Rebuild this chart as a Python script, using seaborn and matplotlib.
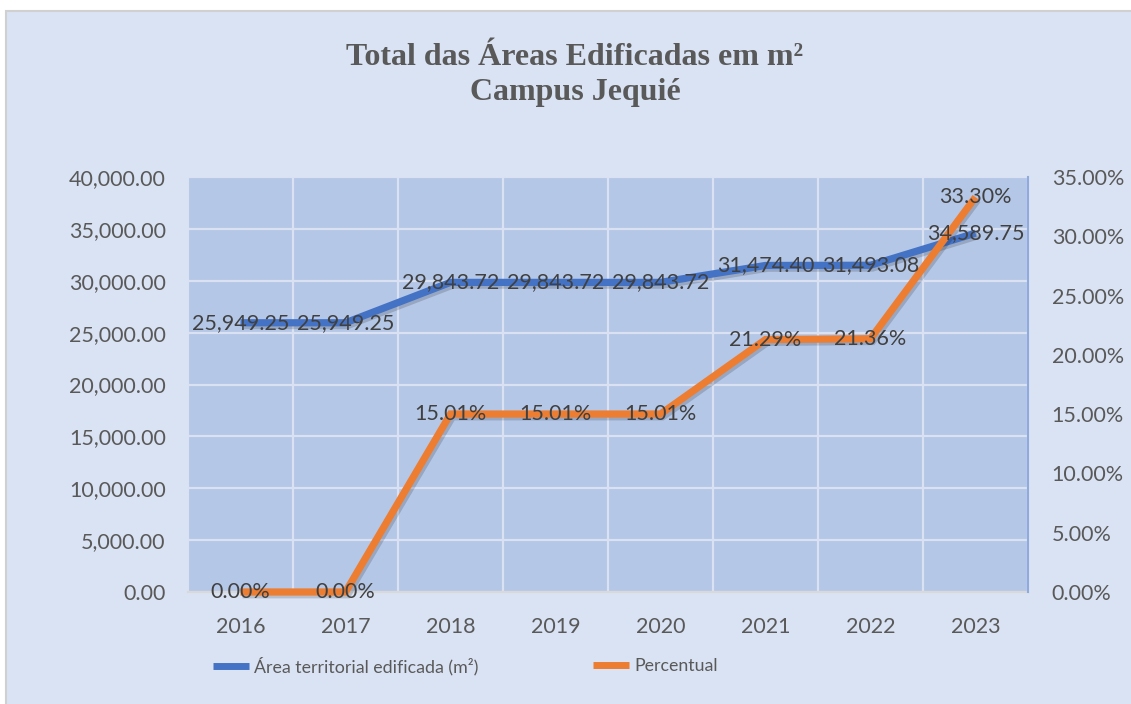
import matplotlib
matplotlib.use("Agg")
import matplotlib.pyplot as plt
import matplotlib.patheffects as pe
from matplotlib.patches import Rectangle
from matplotlib.ticker import FuncFormatter, MultipleLocator, FixedLocator
import seaborn as sns
import pandas as pd

# ---- data ----
anos = ["2016", "2017", "2018", "2019", "2020", "2021", "2022", "2023"]
area_m2 = [25949.25, 25949.25, 29843.72, 29843.72, 29843.72, 31474.40, 31493.08, 34589.75]
percentual = [0.00, 0.00, 15.01, 15.01, 15.01, 21.29, 21.36, 33.30]
titulo = "Total das Áreas Edificadas em m²\nCampus Jequié"
nome_area = "Área territorial edificada (m²)"
nome_perc = "Percentual"

df = pd.DataFrame({"ano": anos, "area": area_m2, "perc": percentual})

sns.set_style("white")
plt.rcParams["font.family"] = ["Lato", "DejaVu Sans"]

BG = "#DAE3F3"
PLOT_BG = "#B4C7E7"
BLUE = "#4472C4"
ORANGE = "#ED7D31"
TXT = "#595959"
LBL = "#404040"
FS = 15.5

fig = plt.figure(figsize=(11.31, 7.04), dpi=100)
fig.patch.set_facecolor("white")
fig.patches.append(Rectangle((6 / 1131, -0.05), 1.2, 1 - 11 / 704 + 0.05,
                             transform=fig.transFigure, facecolor=BG,
                             edgecolor="#D0D0D0", linewidth=1.5, zorder=-10))

ax = fig.add_axes([188 / 1131, 1 - 592 / 704, (1028 - 188) / 1131, (592 - 177) / 704])
ax.set_facecolor(PLOT_BG)
ax2 = ax.twinx()

shadow = [pe.SimpleLineShadow(offset=(1.5, -2.0), shadow_color="black", alpha=0.16), pe.Normal()]

sns.lineplot(data=df, x="ano", y="area", ax=ax, color=BLUE, linewidth=5.2, sort=False,
             path_effects=shadow, solid_joinstyle="miter", solid_capstyle="butt",
             clip_on=False, zorder=3)
sns.lineplot(data=df, x="ano", y="perc", ax=ax2, color=ORANGE, linewidth=5.2, sort=False,
             path_effects=shadow, solid_joinstyle="miter", solid_capstyle="butt",
             clip_on=False, zorder=3)

ax.set_xlim(-0.5, len(anos) - 0.5)
ax.set_ylim(0, 40000)
ax2.set_ylim(0, 35)
ax.yaxis.set_major_locator(MultipleLocator(5000))
ax2.yaxis.set_major_locator(MultipleLocator(5))
ax.yaxis.set_major_formatter(FuncFormatter(lambda v, p: f"{v:,.2f}"))
ax2.yaxis.set_major_formatter(FuncFormatter(lambda v, p: f"{v:.2f}%"))

ax.xaxis.set_minor_locator(FixedLocator([i - 0.5 for i in range(len(anos) + 1)]))
ax.grid(False)
ax.grid(True, axis="y", which="major", color="#D9E1F2", linewidth=1.6)
ax.grid(True, axis="x", which="minor", color="#D9E1F2", linewidth=1.6)
ax2.grid(False)
ax.set_axisbelow(True)

ax.set_xlabel("")
ax.set_ylabel("")
ax2.set_ylabel("")

for s in ("top", "left", "right"):
    ax.spines[s].set_visible(False)
ax.spines["bottom"].set_color("#D9D9D9")
ax.spines["bottom"].set_linewidth(1.5)
for s in ("top", "left", "bottom"):
    ax2.spines[s].set_visible(False)
ax2.spines["right"].set_color("#8FAADC")
ax2.spines["right"].set_linewidth(1.5)
ax2.spines["right"].set_zorder(1)

ax.tick_params(axis="both", which="both", length=0, labelsize=FS, labelcolor=TXT)
ax.tick_params(axis="y", pad=16)
ax.tick_params(axis="x", pad=18)
ax2.tick_params(axis="y", length=0, labelsize=FS, labelcolor=TXT, pad=17)

# data labels (drawn on top axis so they sit above both lines)
for i, v in enumerate(area_m2):
    ax2.text(i, v, f"{v:,.2f}", transform=ax.transData, ha="center", va="center",
             fontsize=FS, color=LBL, zorder=10)
for i, v in enumerate(percentual):
    ax2.text(i, v, f"{v:.2f}%", ha="center", va="center", fontsize=FS, color=LBL, zorder=10)

fig.text(575 / 1131, 1 - 75 / 704, titulo, ha="center", va="center", family="Liberation Serif",
         fontweight="bold", fontsize=23, color=TXT, linespacing=1.3)

h1 = ax.lines[0]
h2 = ax2.lines[0]
ly = 1 - 666 / 704
for h, nome, x0 in ((h1, nome_area, 213), (h2, nome_perc, 593)):
    leg = fig.legend([h], [nome], loc="center left", bbox_to_anchor=(x0 / 1131, ly),
                     frameon=False, fontsize=12.8, handlelength=2.0, handletextpad=0.3,
                     borderpad=0, borderaxespad=0, labelcolor=TXT)
    for lh in leg.get_lines():
        lh.set_path_effects([])
        lh.set_linewidth(5)

fig.savefig("out.png", dpi=100, facecolor=fig.get_facecolor())
